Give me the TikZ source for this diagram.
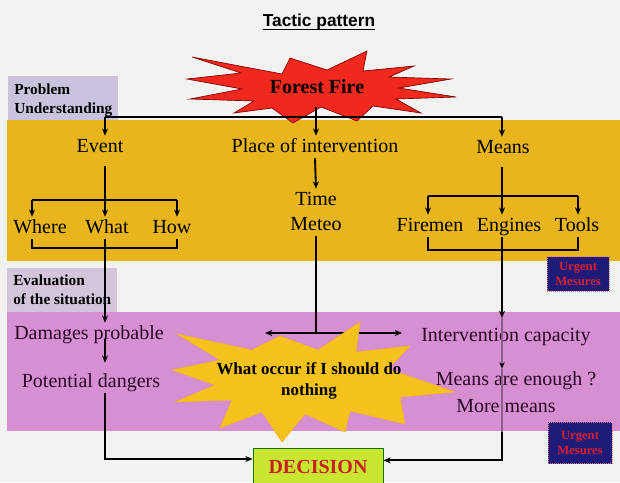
\documentclass[tikz,border=0pt]{standalone}
\usepackage{fontspec}
\setmainfont{Liberation Serif}
\newfontfamily\arialfont{Liberation Sans}
\usetikzlibrary{arrows.meta}
\definecolor{bgc}{HTML}{F2F2F0}
\definecolor{bandyellow}{HTML}{E8B61C}
\definecolor{bandpink}{HTML}{D68FD3}
\definecolor{lavA}{HTML}{CBC3DE}
\definecolor{lavB}{HTML}{D3C6DA}
\definecolor{firered}{HTML}{F0281E}
\definecolor{staryellow}{HTML}{F3C21C}
\definecolor{decgreen}{HTML}{C8E632}
\definecolor{decred}{HTML}{C8201E}
\definecolor{navyc}{HTML}{1E1A78}
\definecolor{urgred}{HTML}{D4202E}
\definecolor{pinktext}{HTML}{2A0826}
\begin{document}
\begin{tikzpicture}[x=0.75pt,y=-0.75pt,
  txt/.style={font=\fontsize{15}{18}\selectfont, inner sep=1pt, anchor=base, text height=11pt, text depth=3.5pt},
  ptxt/.style={txt, text=pinktext},
  lbl/.style={font=\bfseries\fontsize{11.5}{15}\selectfont, inner sep=0pt, anchor=base west},
  ln/.style={line width=1.4pt, draw=black},
  faint/.style={line width=1.1pt, draw=black!35!bandpink},
  arr/.style={ln, -{Stealth[length=5.5pt,width=4.5pt,black]}},
  urgent/.style={fill=navyc, draw=urgred!60, densely dotted, line width=0.5pt, text=urgred,
    font=\bfseries\fontsize{9.5}{11}\selectfont, align=center, inner sep=1pt}]
\useasboundingbox (0,0) rectangle (620,482);
\fill[bgc] (0,0) rectangle (620,482);
% bands and label boxes
\fill[bandyellow] (7,120) rectangle (620,261);
\fill[bandpink] (7,312) rectangle (620,431);
\fill[lavA] (8,76) rectangle (118,120);
\fill[lavB] (7,268) rectangle (117,312);
% title
\node[font=\arialfont\bfseries\fontsize{13}{15}\selectfont, anchor=base, inner sep=0pt] (title) at (319,26) {Tactic pattern};
\draw[line width=1.3pt] ([yshift=-2.6pt]title.base west) -- ([yshift=-2.6pt]title.base east);
% fire star
\filldraw[fill=firered, draw=red!50!black, line width=0.5pt]
 (192,57) -- (282,74) -- (290,58) -- (327,70) -- (367,51) -- (363,71) -- (414,66) -- (389,77)
 -- (451,79) -- (399,88) -- (456,97) -- (396,99) -- (421,113) -- (373,106) -- (357,121)
 -- (321,107) -- (293,123) -- (272,108) -- (234,113) -- (254,101) -- (190,99) -- (242,89)
 -- (187,79) -- (241,73) -- cycle;
\node[font=\bfseries\fontsize{15}{18}\selectfont, anchor=base, inner sep=1pt] (fire) at (317,93) {Forest Fire};
% labels
\node[lbl] (lblA1) at (14,94) {Problem};
\node[lbl] (lblA2) at (14,113) {Understanding};
\node[lbl] (lblB1) at (13,285) {Evaluation};
\node[lbl] (lblB2) at (13,304) {of the situation};
% text nodes
\node[txt] (event) at (100,152) {Event};
\node[txt] (place) at (315,152) {Place of intervention};
\node[txt] (means) at (503,153) {Means};
\node[txt] (where) at (40,233) {Where};
\node[txt] (what) at (107,233) {What};
\node[txt] (how) at (172,233) {How};
\node[txt] (time) at (316,205) {Time};
\node[txt] (meteo) at (316,230) {Meteo};
\node[txt] (firemen) at (430,231) {Firemen};
\node[txt] (engines) at (509,231) {Engines};
\node[txt] (tools) at (577,231) {Tools};
\node[ptxt] (damages) at (89,339) {Damages probable};
\node[ptxt] (dangers) at (91,387) {Potential dangers};
\node[ptxt] (capacity) at (506,341) {Intervention capacity};
\node[ptxt] (enough) at (516,385) {Means are enough ?};
\node[ptxt] (moremeans) at (506,412) {More means};
\node[urgent, minimum width=46.5pt, minimum height=26pt] (urg1) at (578,274) {Urgent\\Mesures};
\node[urgent, minimum width=48pt, minimum height=31pt] (urg2) at (580,443) {Urgent\\Mesures};
\node[fill=decgreen, draw=black!55!green, line width=0.6pt, minimum width=97.5pt, minimum height=28pt,
  text=decred, font=\bfseries\fontsize{15}{18}\selectfont, inner sep=1pt] (decision) at (318,467) {DECISION};
% junction coordinates
\coordinate (firebot) at (316,107);
\coordinate (topL) at (105,117);
\coordinate (topR) at (502,117);
\coordinate (evbar) at (105,200);
\coordinate (evL) at (32,200);
\coordinate (evR) at (177,200);
\coordinate (bL) at (32,248);
\coordinate (bR) at (177,248);
\coordinate (mnbar) at (502,196);
\coordinate (mnL) at (428,196);
\coordinate (mnR) at (578,196);
\coordinate (cL) at (428,250);
\coordinate (cR) at (578,250);
\coordinate (mid) at (316,333);
\coordinate (midL) at (265,333);
\coordinate (midR) at (402,333);
\coordinate (pinkbot) at (502,432);
% top distribution
\draw[ln] (topL) -- (topR);
\draw[arr] (topL) -- (topL |- event.north);
\draw[arr] (topR) -- (topR |- means.north);
\draw[arr] (firebot) -- (firebot |- place.north);
% event branch
\draw[ln, shorten <=6pt] (topL |- event.south) -- (evbar);
\draw[ln] (evL) -- (evR);
\draw[arr] (evL) -- (evL |- where.north);
\draw[arr] (evbar) -- (evbar |- what.north);
\draw[arr] (evR) -- (evR |- how.north);
\draw[ln] (bL |- where.south) -- (bL) -- (bR) -- (bR |- how.south);
\draw[arr] (evbar |- what.south) -- (evbar |- damages.north);
\draw[arr] (evbar |- damages.base) -- ([yshift=6pt]evbar |- dangers.north);
\draw[arr] (evbar |- dangers.south) |- ([yshift=6pt]decision.west);
% place branch
\draw[arr] (place.south) -- (time.north);
\draw[ln] (meteo.south) -- (mid);
\draw[arr] (mid) -- (midL);
\draw[arr] (mid) -- (midR);
% means branch
\draw[ln, shorten <=6pt] (topR |- means.south) -- (mnbar);
\draw[ln] (mnL) -- (mnR);
\draw[arr] (mnL) -- (mnL |- firemen.north);
\draw[arr] (mnbar) -- (mnbar |- engines.north);
\draw[arr] (mnR) -- (mnR |- tools.north);
\draw[ln] (cL |- firemen.south) -- (cL) -- (cR) -- (cR |- tools.south);
\draw[arr] (mnbar |- engines.south) -- ([yshift=5pt]mnbar |- capacity.north);
\draw[faint, -{Stealth[length=5pt,width=4pt,black]}] ([yshift=5pt]mnbar |- capacity.north) -- (mnbar |- enough.north);
\draw[faint] (mnbar |- enough.north) -- (pinkbot);
\draw[arr] (pinkbot) |- ([yshift=5pt]decision.east);
% what-if star
\filldraw[fill=staryellow, draw=staryellow!80!orange, line width=0.4pt]
 (177,334) -- (252,350) -- (280,336) -- (318,350) -- (360,322) -- (356,352) -- (410,346)
 -- (388,369) -- (455,392) -- (400,397) -- (405,424) -- (350,411) -- (345,432) -- (305,414)
 -- (282,442) -- (262,412) -- (220,428) -- (232,400) -- (175,402) -- (215,385) -- (172,370)
 -- (220,360) -- cycle;
\node[font=\bfseries\fontsize{12.7}{16}\selectfont, align=center, inner sep=0pt] (whatif) at (309,381) {What occur if I should do\\nothing};
\end{tikzpicture}
\end{document}
